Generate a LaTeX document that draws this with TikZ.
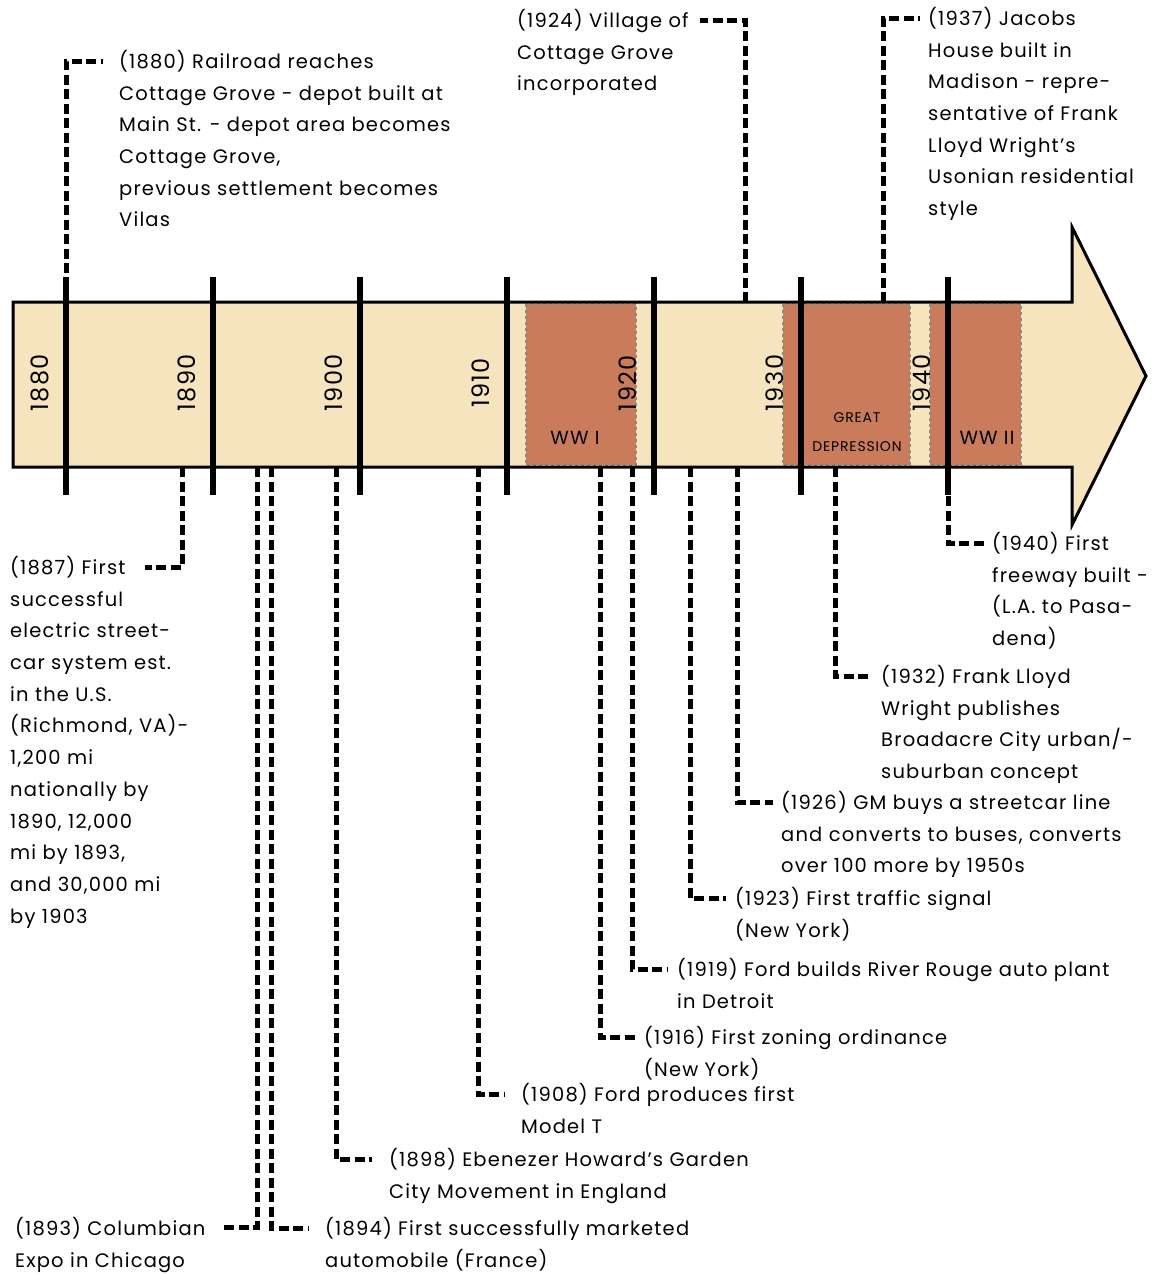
\documentclass[tikz,border=0pt]{standalone}
\usepackage{fontspec}
\setmainfont{Poppins}[LetterSpace=6]
\usetikzlibrary{positioning}
\definecolor{bandfill}{HTML}{F6E4BF}
\definecolor{warfill}{HTML}{C97B5B}
\definecolor{edgegray}{HTML}{8E8B80}
\tikzset{
  event/.style={anchor=north west, align=left, inner sep=0pt, font=\fontsize{19.5}{31.7}\selectfont},
  leader/.style={line width=5pt, dash pattern=on 10pt off 4.5pt},
  yeartick/.style={line width=6pt},
  decade/.style={rotate=90, inner sep=0pt, font=\fontsize{24}{24}\selectfont},
  era/.style={fill=warfill, draw=edgegray, dashed, line width=1.5pt},
  eralabel/.style={inner sep=0pt, font=\fontsize{19}{19}\selectfont},
}
\begin{document}
\begin{tikzpicture}[x=1pt, y=-1pt]
  \useasboundingbox (0,0) rectangle (1153,1274);

  % timeline arrow
  \fill[bandfill] (13,302) -- (1072,302) -- (1072,227) -- (1146,376) -- (1072,525) -- (1072,467) -- (13,467) -- cycle;
  \draw[era] (526,304) rectangle (636,465);
  \draw[era] (783,304) rectangle (910,465);
  \draw[era] (930,304) rectangle (1021,465);
  \draw[line width=3pt, line join=miter] (13,302) -- (1072,302) -- (1072,227) -- (1146,376) -- (1072,525) -- (1072,467) -- (13,467) -- cycle;

  \node[eralabel] (ww1) at (575,438) {WW I};
  \node[eralabel, font=\fontsize{14}{14}\selectfont] (gd1) at (857,418) {GREAT};
  \node[eralabel, font=\fontsize{14}{14}\selectfont] (gd2) at (857,447) {DEPRESSION};
  \node[eralabel] (ww2) at (987,438) {WW II};

  \foreach \yr/\x in {1880/66, 1890/213, 1900/360, 1910/507, 1920/654, 1930/801, 1940/948} {
    \draw[yeartick] (\x,277) -- (\x,495);
    \node[decade] (d\yr) at (\x-26,383) {\yr};
  }

  % band points
  \coordinate (b1880) at (66,302);
  \coordinate (b1924) at (745,302);
  \coordinate (b1937) at (883,302);
  \coordinate (b1887) at (182,467);
  \coordinate (b1893) at (257,467);
  \coordinate (b1894) at (271,467);
  \coordinate (b1898) at (336,467);
  \coordinate (b1908) at (478,467);
  \coordinate (b1916) at (600,467);
  \coordinate (b1919) at (632,467);
  \coordinate (b1923) at (690,467);
  \coordinate (b1926) at (737,467);
  \coordinate (b1932) at (835,467);
  \coordinate (b1940) at (948,467);
  \coordinate (k1924) at (700,20);
  \coordinate (k1887) at (145,567);
  \coordinate (k1893) at (220,1227);

  % events above
  \node[event] (t1880) at (119,50) {(1880) Railroad reaches\\Cottage Grove - depot built at\\Main St. - depot area becomes\\Cottage Grove,\\previous settlement becomes\\Vilas};
  \node[event] (t1924) at (517,9) {(1924) Village of\\Cottage Grove\\incorporated};
  \node[event] (t1937) at (928,7) {(1937) Jacobs\\House built in\\Madison - repre-\\sentative of Frank\\Lloyd Wright’s\\Usonian residential\\style};

  % events below
  \node[event] (t1887) at (10,556) {(1887) First\\successful\\electric street-\\car system est.\\in the U.S.\\(Richmond, VA)-\\1,200 mi\\nationally by\\1890, 12,000\\mi by 1893,\\and 30,000 mi\\by 1903};
  \node[event] (t1940) at (992,532) {(1940) First\\freeway built -\\(L.A. to Pasa-\\dena)};
  \node[event] (t1932) at (881,665) {(1932) Frank Lloyd\\Wright publishes\\Broadacre City urban/-\\suburban concept};
  \node[event] (t1926) at (781,791) {(1926) GM buys a streetcar line\\and converts to buses, converts\\over 100 more by 1950s};
  \node[event] (t1923) at (735,887) {(1923) First traffic signal\\(New York)};
  \node[event] (t1919) at (677,958) {(1919) Ford builds River Rouge auto plant\\in Detroit};
  \node[event] (t1916) at (644,1026) {(1916) First zoning ordinance\\(New York)};
  \node[event] (t1908) at (521,1083) {(1908) Ford produces first\\Model T};
  \node[event] (t1898) at (389,1148) {(1898) Ebenezer Howard’s Garden\\City Movement in England};
  \node[event] (t1893) at (15,1217) {(1893) Columbian\\Expo in Chicago};
  \node[event] (t1894) at (325,1217) {(1894) First successfully marketed\\automobile (France)};

  % leaders
  \draw[leader] (b1880) |- ([xshift=-16pt,yshift=-11pt]t1880.north west);
  \draw[leader] (b1924) |- (k1924);
  \draw[leader] (b1937) |- ([xshift=-8pt,yshift=-11pt]t1937.north west);
  \draw[leader] (b1887) |- (k1887);
  \draw[leader] (b1893) |- (k1893);
  \foreach \ev/\gap in {1894/17, 1898/17, 1908/16, 1916/8, 1919/9, 1923/9, 1926/8, 1932/9, 1940/7}
    \draw[leader] (b\ev) |- ([xshift=-\gap pt,yshift=-11pt]t\ev.north west);
\end{tikzpicture}
\end{document}
